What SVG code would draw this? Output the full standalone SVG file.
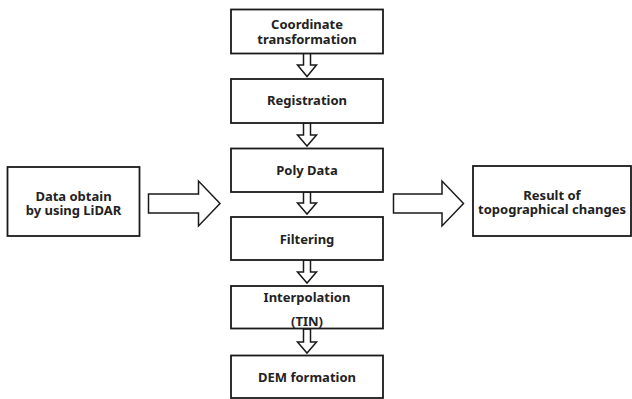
<svg xmlns="http://www.w3.org/2000/svg" width="632" height="399" viewBox="0 0 632 399">
<style>
.box{fill:#fff;stroke:#1a1a1a;stroke-width:1.8}
.arr{fill:#fff;stroke:#1a1a1a;stroke-width:1.5;stroke-linejoin:miter}
text{font-family:"Noto Sans","Open Sans","Liberation Sans",sans-serif;font-weight:bold;font-size:13px;fill:#222;text-anchor:middle}
</style>
<rect width="632" height="399" fill="#fff"/>
<g id="connectors">
<path class="arr" d="M303.5,53 H310.5 V65 H316.5 L307,76.5 L297.5,65 H303.5 Z"/>
<path class="arr" d="M303.5,123 H310.5 V135 H316.5 L307,146 L297.5,135 H303.5 Z"/>
<path class="arr" d="M303.5,192 H310.5 V203 H316.5 L307,214 L297.5,203 H303.5 Z"/>
<path class="arr" d="M303.5,260 H310.5 V272 H316.5 L307,283 L297.5,272 H303.5 Z"/>
<path class="arr" d="M303.5,329 H310.5 V342 H316.5 L307,353 L297.5,342 H303.5 Z"/>
<path class="arr" d="M148.5,194 H198.5 V181 L220,203.5 L198.5,226 V213 H148.5 Z"/>
<path class="arr" d="M393.5,194 H442 V181 L463.5,203.5 L442,226 V213 H393.5 Z"/>
</g>
<g id="n1"><rect class="box" x="231" y="9.5" width="152" height="44"/><text x="307" y="28.5">Coordinate</text><text x="307" y="43.5">transformation</text></g>
<g id="n2"><rect class="box" x="231" y="79" width="152" height="44"/><text x="307" y="105">Registration</text></g>
<g id="n3"><rect class="box" x="231" y="148.5" width="152" height="43.5"/><text x="307" y="175">Poly Data</text></g>
<g id="n4"><rect class="box" x="231" y="217" width="152" height="43"/><text x="307" y="243.5">Filtering</text></g>
<g id="n5"><rect class="box" x="231" y="286" width="152" height="42.5"/><text x="307" y="302">Interpolation</text><text x="307" y="325.5">(TIN)</text></g>
<g id="n6"><rect class="box" x="231" y="355.5" width="152" height="42.5"/><text x="307" y="381.5">DEM formation</text></g>
<g id="n7"><rect class="box" x="7.5" y="167" width="132" height="69"/><text x="73.5" y="200.5">Data obtain</text><text x="73.5" y="214.5">by using LiDAR</text></g>
<g id="n8"><rect class="box" x="473" y="166" width="158" height="70"/><text x="552" y="200">Result of</text><text x="552" y="213.5">topographical changes</text></g>
</svg>
